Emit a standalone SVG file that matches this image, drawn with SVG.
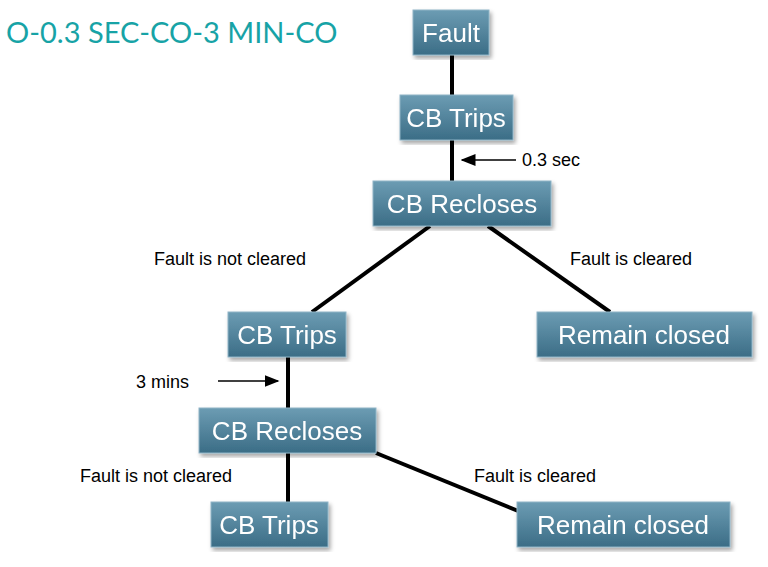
<svg xmlns="http://www.w3.org/2000/svg" width="768" height="567" viewBox="0 0 768 567">
<style>
.b{fill:url(#g);stroke:#8fb4c6;stroke-width:1}
.t{font-family:"Liberation Sans",Arial,sans-serif;font-size:26px;fill:#fff;text-anchor:middle}
.l{font-family:"Liberation Sans",Arial,sans-serif;font-size:18px;fill:#000}
.c{stroke:#000;stroke-width:4;fill:none}
</style>
<defs>
<linearGradient id="g" x1="0" y1="0" x2="0" y2="1"><stop offset="0" stop-color="#6c9cb3"/><stop offset="1" stop-color="#3b6d86"/></linearGradient>
<filter id="s"><feDropShadow dx="2" dy="3" stdDeviation="2" flood-opacity="0.35"/></filter>
<marker id="a" markerWidth="10" markerHeight="8" refX="9" refY="4" orient="auto"><path d="M0,0L10,4L0,8z" fill="#000"/></marker>
</defs>
<rect width="768" height="567" fill="#fff"/>
<text x="6" y="43" font-family="Lato,'Liberation Sans',sans-serif" font-size="29" fill="#17a3a6">O-0.3 SEC-CO-3 MIN-CO</text>
<g id="connectors">
<line class="c" x1="452" y1="55" x2="452" y2="95"/>
<line class="c" x1="452" y1="140" x2="452" y2="181"/>
<line class="c" x1="430" y1="226" x2="312" y2="312"/>
<line class="c" x1="488" y1="226" x2="610" y2="312"/>
<line class="c" x1="288" y1="357" x2="288" y2="408"/>
<line class="c" x1="288" y1="453" x2="288" y2="502"/>
<line class="c" x1="376" y1="453" x2="528" y2="515"/>
<line stroke="#000" stroke-width="1.5" x1="516" y1="160" x2="462" y2="160" marker-end="url(#a)"/>
<line stroke="#000" stroke-width="1.5" x1="218" y1="381" x2="278" y2="381" marker-end="url(#a)"/>
<text class="l" x="522" y="166">0.3 sec</text>
<text class="l" x="154" y="265">Fault is not cleared</text>
<text class="l" x="570" y="265">Fault is cleared</text>
<text class="l" x="136" y="388">3 mins</text>
<text class="l" x="80" y="482">Fault is not cleared</text>
<text class="l" x="474" y="482">Fault is cleared</text>
</g>
<g id="n1" filter="url(#s)"><rect class="b" x="413" y="10" width="76" height="45"/><text class="t" x="451" y="42">Fault</text></g>
<g id="n2" filter="url(#s)"><rect class="b" x="400" y="95" width="113" height="45"/><text class="t" x="456" y="127">CB Trips</text></g>
<g id="n3" filter="url(#s)"><rect class="b" x="373" y="181" width="178" height="45"/><text class="t" x="462" y="213">CB Recloses</text></g>
<g id="n4" filter="url(#s)"><rect class="b" x="228" y="312" width="118" height="45"/><text class="t" x="287" y="344">CB Trips</text></g>
<g id="n5" filter="url(#s)"><rect class="b" x="537" y="312" width="215" height="45"/><text class="t" x="644" y="344">Remain closed</text></g>
<g id="n6" filter="url(#s)"><rect class="b" x="199" y="408" width="177" height="45"/><text class="t" x="287" y="440">CB Recloses</text></g>
<g id="n7" filter="url(#s)"><rect class="b" x="211" y="502" width="117" height="45"/><text class="t" x="269" y="534">CB Trips</text></g>
<g id="n8" filter="url(#s)"><rect class="b" x="517" y="502" width="213" height="45"/><text class="t" x="623" y="534">Remain closed</text></g>
</svg>
